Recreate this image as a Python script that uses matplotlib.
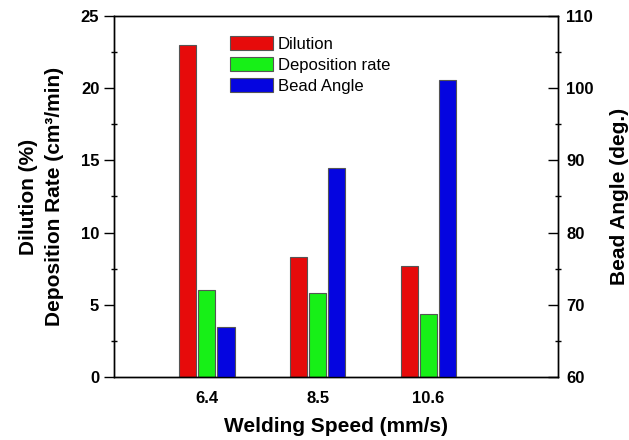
import numpy as np
import matplotlib.pyplot as plt

plt.rcParams['font.family'] = ['Liberation Sans', 'DejaVu Sans']

# data
speeds = ['6.4', '8.5', '10.6']
dilution = [23.0, 8.3, 7.7]
deposition = [6.05, 5.8, 4.35]
bead_angle = [67.0, 89.0, 101.1]

x = np.arange(len(speeds))
w = 0.155
step = 0.172

fig = plt.figure(figsize=(6.29, 4.40), dpi=100)
ax = fig.add_axes([0.181, 0.143, 0.706, 0.821])
ax2 = ax.twinx()

b1 = ax.bar(x - step, dilution, w, color='#e60b0b', edgecolor='#555555', lw=0.8, label='Dilution')
b2 = ax.bar(x, deposition, w, color='#17f017', edgecolor='#555555', lw=0.8, label='Deposition rate')
b3 = ax2.bar(x + step, bead_angle, w, bottom=0, color='#0505e0', edgecolor='#555555', lw=0.8,
             label='Bead Angle')

ax.set_xlim(-0.84, 3.17)
ax.set_ylim(0, 25)
ax2.set_ylim(60, 110)

ax.set_xticks(x)
ax.set_xticklabels(speeds, fontsize=12, fontweight='bold')
ax.tick_params(axis='x', length=0, pad=10)

ax.set_yticks([0, 5, 10, 15, 20, 25])
ax.set_yticks([2.5, 7.5, 12.5, 17.5, 22.5], minor=True)
ax.tick_params(axis='y', which='major', direction='out', length=7, width=1, labelsize=12)
ax.tick_params(axis='y', which='minor', direction='inout', length=4, width=1)
for lab in ax.get_yticklabels():
    lab.set_fontweight('bold')

ax2.set_yticks([60, 70, 80, 90, 100, 110])
ax2.set_yticks([65, 75, 85, 95, 105], minor=True)
ax2.tick_params(axis='y', which='major', direction='in', length=7, width=1, labelsize=12, pad=6)
ax2.tick_params(axis='y', which='minor', direction='inout', length=4, width=1)
for lab in ax2.get_yticklabels():
    lab.set_fontweight('bold')

ax.set_xlabel('Welding Speed (mm/s)', fontsize=15, fontweight='bold', labelpad=8)
ax.set_ylabel('Dilution (%)\nDeposition Rate (cm\u00b3/min)', fontsize=15, fontweight='bold',
              labelpad=12, linespacing=1.5)
ax2.set_ylabel('Bead Angle (deg.)', fontsize=15, fontweight='bold', labelpad=12)

for a in (ax, ax2):
    for s in a.spines.values():
        s.set_linewidth(1)

ax.legend([b1, b2, b3], ['Dilution', 'Deposition rate', 'Bead Angle'],
          loc='upper left', bbox_to_anchor=(0.261, 0.944), frameon=False,
          fontsize=12, handlelength=2.6, handleheight=0.9, labelspacing=0.33,
          handletextpad=0.3, borderaxespad=0, borderpad=0)

fig.savefig('out.png', dpi=100)
